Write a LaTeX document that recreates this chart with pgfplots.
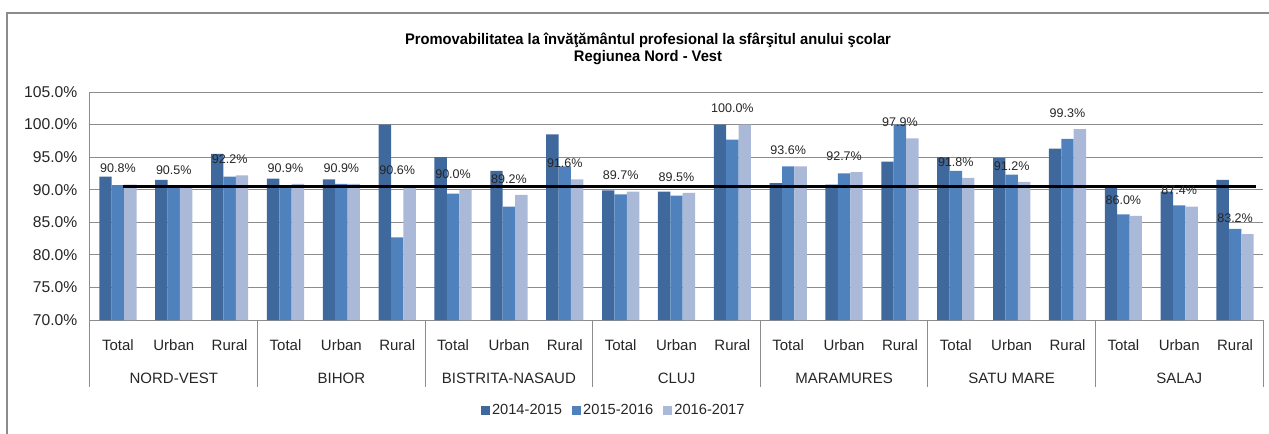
\documentclass[border=0pt]{standalone}
\usepackage{fontspec}
\setmainfont{Liberation Sans}
\usepackage{graphicx}
\usepackage{pgfplots}
\pgfplotsset{compat=1.18}
\usepackage{pgfplotstable}
\definecolor{cA}{HTML}{3F689C}
\definecolor{cB}{HTML}{4F81BD}
\definecolor{cC}{HTML}{AAB9D7}
\definecolor{gridc}{HTML}{8C8C8C}
\definecolor{txt}{HTML}{262626}

\pgfplotstableread{
x a b c
0 92.0 90.7 90.8
1 91.5 90.4 90.5
2 95.5 92.0 92.2
3 91.7 90.4 90.9
4 91.6 90.9 90.9
5 100.0 82.7 90.6
6 95.0 89.4 90.0
7 92.9 87.4 89.2
8 98.5 93.6 91.6
9 89.9 89.3 89.7
10 89.7 89.1 89.5
11 100.0 97.7 100.0
12 91.0 93.6 93.6
13 90.8 92.5 92.7
14 94.3 100.0 97.9
15 95.0 92.9 91.8
16 94.9 92.3 91.2
17 96.3 97.8 99.3
18 90.5 86.2 86.0
19 89.7 87.6 87.4
20 91.5 84.0 83.2
}\data

\pgfplotsset{
  mybar/.style={ybar, bar width=9.3pt, draw=none,
    legend image code/.code={\fill[##1] (0pt,-3.4pt) rectangle (6.8pt,3.4pt);}},
}

\begin{document}
\begin{tikzpicture}[x=1pt,y=1pt]
\path[use as bounding box] (-67.5,-84.75) rectangle (884.25,240);
\draw[gridc, line width=1.2pt] (-62.25,-90) -- (-62.25,230.25) -- (890,230.25);
\node[font=\bfseries\fontsize{11.5}{13}\selectfont, text=black] at (418.5,210) {\scalebox{0.96}[1]{Promovabilitatea la învăţământul profesional la sfârşitul anului şcolar}};
\node[font=\bfseries\fontsize{11.5}{13}\selectfont, text=black] at (418.5,196.5) {\scalebox{0.96}[1]{Regiunea Nord - Vest}};
\begin{axis}[
  at={(0,0)}, anchor=south west,
  width=879.75pt, height=171pt, scale only axis,
  xmin=-0.5, xmax=20.5, ymin=70, ymax=105,
  ytick={70,75,80,85,90,95,100,105},
  yticklabel={\pgfmathprintnumber[fixed,fixed zerofill,precision=1]{\tick}\%},
  /pgf/number format/assume math mode=true,
  ymajorgrids, major grid style={gridc, line width=0.75pt},
  axis x line*=bottom, axis y line*=left,
  axis line style={gridc, line width=0.75pt, -},
  major tick length=0pt,
  xtick={0,...,20},
  xticklabels={Total,Urban,Rural,Total,Urban,Rural,Total,Urban,Rural,Total,Urban,Rural,Total,Urban,Rural,Total,Urban,Rural,Total,Urban,Rural},
  xticklabel style={font=\fontsize{11.25}{13}\selectfont, text=txt, anchor=base, yshift=-22.5pt},
  yticklabel style={font=\fontsize{11.75}{13}\selectfont, text=txt, anchor=east, xshift=-6pt},
  clip=false,
  legend style={at={(0.4465,-0.395)}, anchor=center, draw=none, fill=none,
    legend columns=3, font=\fontsize{11}{13}\selectfont, text=txt,
    /tikz/every even column/.append style={column sep=6pt},
    nodes={inner sep=1.5pt}},
]
\addplot[mybar, fill=cA, bar shift=-9.3pt] table[x=x,y=a]{\data};
\addlegendentry{2014-2015}
\addplot[mybar, fill=cB, bar shift=0pt] table[x=x,y=b]{\data};
\addlegendentry{2015-2016}
\addplot[mybar, fill=cC, bar shift=9.3pt,
  nodes near coords={\pgfmathprintnumber[fixed,fixed zerofill,precision=1]{\pgfplotspointmeta}\%},
  every node near coord/.append style={font=\fontsize{9.4}{11}\selectfont, text=txt, anchor=center, yshift=12pt}
  ] table[x=x,y=c]{\data};
\addlegendentry{2016-2017}
\addplot[sharp plot, black, line width=2pt, forget plot] coordinates {(0.09,90.45) (20.38,90.45)};
\pgfplotsinvokeforeach{-0.5,2.5,5.5,8.5,11.5,14.5,17.5,20.5}{
  \draw[gridc, line width=0.75pt] (axis cs:#1,70) -- ++(0pt,-50.25pt);
}
\pgfplotsforeachungrouped \xx/\nm in {1/NORD-VEST,4/BIHOR,7/BISTRITA-NASAUD,10/CLUJ,13/MARAMURES,16/SATU MARE,19/SALAJ}{
  \edef\tmp{\noexpand\node[font=\noexpand\fontsize{11.25}{13}\noexpand\selectfont, text=txt, anchor=base, yshift=-47.25pt] at (axis cs:\xx,70) {\nm};}
  \tmp
}
\end{axis}
\end{tikzpicture}
\end{document}
